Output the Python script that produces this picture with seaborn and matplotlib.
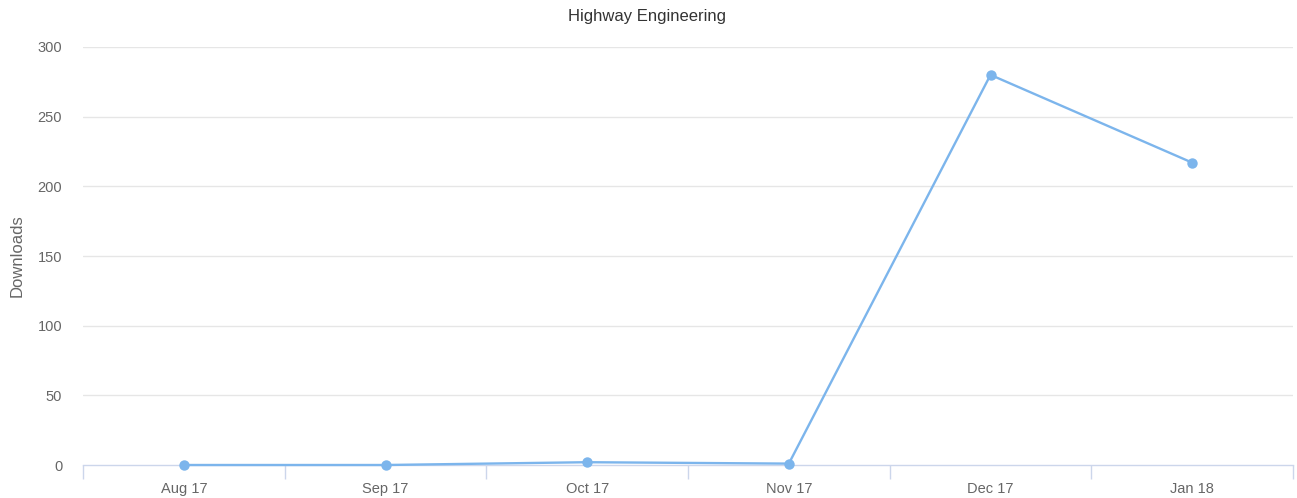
import matplotlib
matplotlib.use("Agg")
import matplotlib.pyplot as plt
import seaborn as sns
import pandas as pd
from matplotlib.ticker import FixedLocator

categories = ["Aug 17", "Sep 17", "Oct 17", "Nov 17", "Dec 17", "Jan 18"]
downloads = [0, 0, 2, 1, 280, 217]
yticks = [0, 50, 100, 150, 200, 250, 300]

sns.set_style("white")
plt.rcParams['font.family'] = ['Liberation Sans', 'DejaVu Sans']

df = pd.DataFrame({"x": range(len(categories)), "Downloads": downloads})

fig = plt.figure(figsize=(12.97, 4.98), dpi=100)
ax = fig.add_axes([83/1297, 33/498, 1210/1297, 418/498])

sns.lineplot(data=df, x="x", y="Downloads", ax=ax, color="#7cb5ec", linewidth=1.7,
             marker="o", markersize=7.5, markeredgewidth=0, markerfacecolor="#7cb5ec",
             zorder=3, clip_on=False)

ax.set_xlim(-0.5, len(categories) - 0.5)
ax.set_ylim(0, 300)
ax.set_yticks(yticks)
ax.set_yticklabels([str(v) for v in yticks])
ax.set_xticks(range(len(categories)))
ax.set_xticklabels(categories)
ax.xaxis.set_minor_locator(FixedLocator([i - 0.5 for i in range(len(categories) + 1)]))
ax.tick_params(axis="x", which="major", bottom=False, length=0, pad=12, labelsize=10.5,
               labelcolor="#666666")
ax.tick_params(axis="x", which="minor", bottom=True, length=10, width=1, color="#ccd6eb",
               direction="out")
ax.tick_params(axis="y", left=False, length=0, pad=15, labelsize=10.5, labelcolor="#666666")
for y in yticks[1:]:
    ax.axhline(y, color="#e6e6e6", linewidth=1, zorder=1)

for s in ["top", "right", "left"]:
    ax.spines[s].set_visible(False)
ax.spines["bottom"].set_color("#ccd6eb")
ax.spines["bottom"].set_linewidth(1)

ax.set_xlabel("")
ax.set_ylabel("Downloads", fontsize=12, color="#666666")
ax.yaxis.set_label_coords(-58/1210, 0.5)
fig.text(647/1297, 1 - 17/498, "Highway Engineering", ha="center", va="center",
         fontsize=12, color="#333333")

fig.savefig("out.png", dpi=100)
